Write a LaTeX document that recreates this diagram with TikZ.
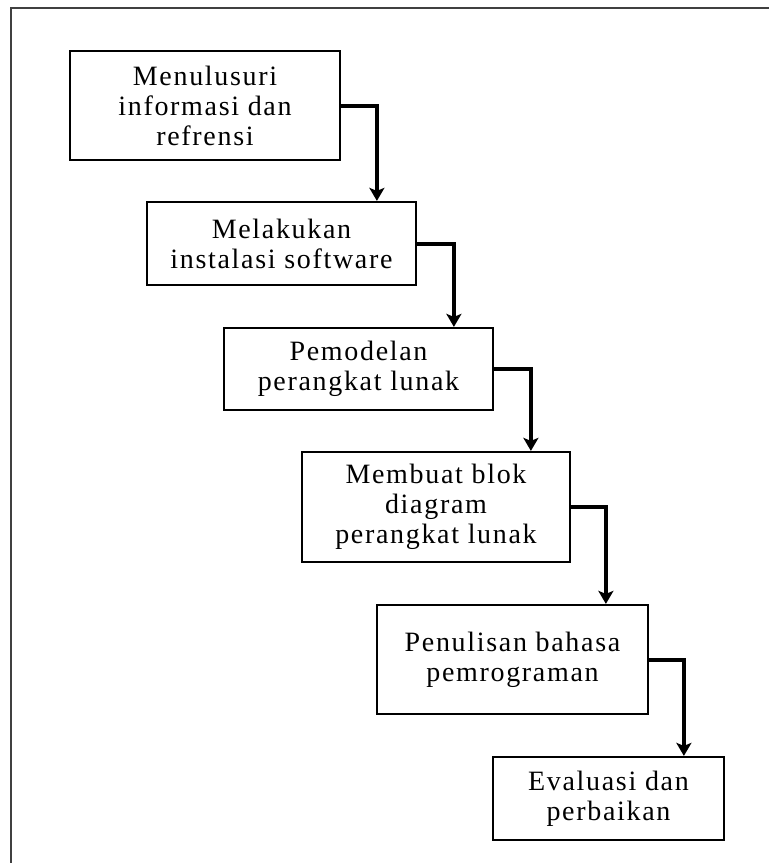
\documentclass[tikz,border=0pt]{standalone}
\usepackage{fontspec}
\setmainfont{Liberation Serif}[LetterSpace=6]
\usetikzlibrary{arrows.meta}
\begin{document}
\begin{tikzpicture}[x=1pt,y=-1pt,
  stepbox/.style={draw=black, line width=2.2pt, fill=white, align=center,
    inner sep=0pt, font=\fontsize{28}{30}\selectfont},
  flow/.style={line width=4pt, -{Stealth[length=13pt,width=15pt,inset=3pt]}}]
  \useasboundingbox[fill=white] (0,0) rectangle (769,863);
  % frame edges
  \draw[line width=2.5pt, draw=black!75] (11,863) -- (11,8) -- (769,8);

  % process steps
  \node[stepbox, minimum width=270pt, minimum height=109pt] (s1) at (205,105.5)
    {Menulusuri\\informasi dan\\refrensi};
  \node[stepbox, minimum width=269pt, minimum height=83pt] (s2) at (281.5,243.5)
    {Melakukan\\instalasi software};
  \node[stepbox, minimum width=269pt, minimum height=82pt] (s3) at (358.5,369)
    {Pemodelan\\perangkat lunak};
  \node[stepbox, minimum width=268pt, minimum height=110pt] (s4) at (436,507)
    {Membuat blok\\diagram\\perangkat lunak};
  \node[stepbox, minimum width=271pt, minimum height=109pt] (s5) at (512.5,659.5)
    {Penulisan bahasa\\pemrograman};
  \node[stepbox, minimum width=231pt, minimum height=83pt] (s6) at (608.5,798.5)
    {Evaluasi dan\\perbaikan};

  % connectors
  \draw[flow] (s1.east) -| ([xshift=231pt]s2.north west);
  \draw[flow] (s2.east) -| ([xshift=231pt]s3.north west);
  \draw[flow] (s3.east) -| ([xshift=230pt]s4.north west);
  \draw[flow] (s4.east) -| ([xshift=230pt]s5.north west);
  \draw[flow] (s5.east) -| ([xshift=192pt]s6.north west);
\end{tikzpicture}
\end{document}
